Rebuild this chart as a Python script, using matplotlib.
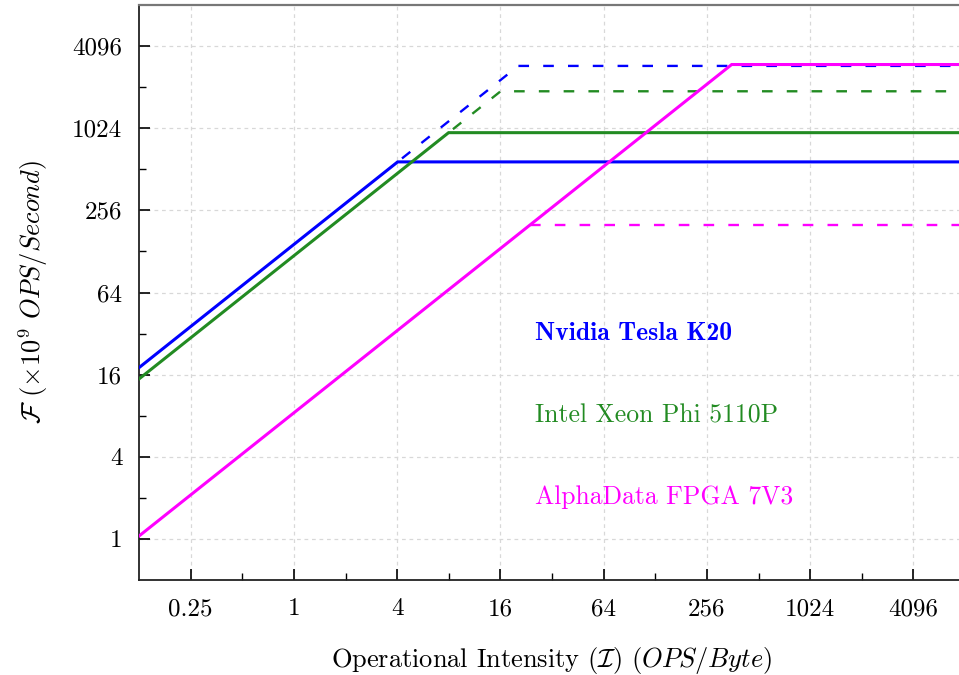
import matplotlib
matplotlib.use("Agg")
import matplotlib.pyplot as plt
from matplotlib.ticker import FixedLocator, FixedFormatter, NullFormatter
import numpy as np

plt.rcParams['mathtext.fontset'] = 'cm'
plt.rcParams['font.family'] = 'serif'
plt.rcParams['font.serif'] = ['cmr10']
plt.rcParams['axes.formatter.use_mathtext'] = True

# Device data: (bandwidth GB/s, attained peak, theoretical peak)
names = ["Nvidia Tesla K20", "Intel Xeon Phi 5110P", "AlphaData FPGA 7V3"]
colors = ["#0000ff", "#228b22", "#ff00ff"]
bandwidth = [144, 119, 8.4]
peak_solid = [580, 950, 3000]
peak_dashed = [2930, 1910, 200]
label_x = [25.6, 25.6, 25.6]
label_y = [32, 8, 2.03]
label_font = ["cmb10", "cmr10", "cmr10"]

x_ticks = [0.25, 1, 4, 16, 64, 256, 1024, 4096]
x_ticklabels = ["0.25", "1", "4", "16", "64", "256", "1024", "4096"]
x_minor = [0.5, 2, 8, 32, 128, 512, 2048]
y_ticks = [1, 4, 16, 64, 256, 1024, 4096]
y_ticklabels = ["1", "4", "16", "64", "256", "1024", "4096"]
y_minor = [2, 8, 32, 128, 512, 2048]

xmin, xmax = 0.125, 8192
ymin, ymax = 0.5, 8192

fig = plt.figure(figsize=(9.59, 6.75), dpi=100)
ax = fig.add_axes([139/959, 95/675, 826/959, 575/675])
ax.set_xscale('log', base=2)
ax.set_yscale('log', base=2)
ax.set_xlim(xmin, xmax)
ax.set_ylim(ymin, ymax)

for bw, ps, pd, c in zip(bandwidth, peak_solid, peak_dashed, colors):
    ridge = ps / bw
    ax.plot([xmin, ridge, xmax], [bw * xmin, ps, ps], color=c, lw=2.2,
            solid_joinstyle='miter', zorder=3)
    ridge_d = pd / bw
    if ridge_d > ridge:
        xs = [ridge * 1.06, ridge_d, xmax]
        ys = [ps * 1.06, pd, pd]
    else:
        xs = [ridge_d, xmax]
        ys = [pd, pd]
    ax.plot(xs, ys, color=c, lw=1.7, dashes=(4.5, 6.0), zorder=3)

for n, c, lx, ly, f in zip(names, colors, label_x, label_y, label_font):
    ax.text(lx, ly, n, color=c, fontsize=18.5, family=f, ha='left', va='center')

ax.xaxis.set_major_locator(FixedLocator(x_ticks))
ax.xaxis.set_major_formatter(FixedFormatter(x_ticklabels))
ax.xaxis.set_minor_locator(FixedLocator(x_minor))
ax.xaxis.set_minor_formatter(NullFormatter())
ax.yaxis.set_major_locator(FixedLocator(y_ticks))
ax.yaxis.set_major_formatter(FixedFormatter(y_ticklabels))
ax.yaxis.set_minor_locator(FixedLocator(y_minor))
ax.yaxis.set_minor_formatter(NullFormatter())

ax.tick_params(which='major', direction='in', length=8, width=1.2, labelsize=18, pad=13)
ax.tick_params(which='minor', direction='in', length=5, width=1.0)
ax.tick_params(axis='y', pad=12)
ax.tick_params(top=False, right=False, which='both')

ax.grid(True, which='major', color='#d8d8d8', lw=0.9, dashes=(3, 3))
ax.set_axisbelow(True)
for s in ['left', 'bottom']:
    ax.spines[s].set_color('#222222')
    ax.spines[s].set_linewidth(1.3)
ax.spines['top'].set_color('#777777')
ax.spines['top'].set_linewidth(1.6)
ax.spines['right'].set_visible(False)

ax.set_xlabel(r"Operational Intensity ($\mathcal{I}$) ($OPS/Byte$)", fontsize=19, labelpad=18)
ax.set_ylabel(r"$\mathcal{F}$ ($\times 10^9$ $OPS/Second$)", fontsize=19, labelpad=16)

fig.savefig("out.png", dpi=100)
